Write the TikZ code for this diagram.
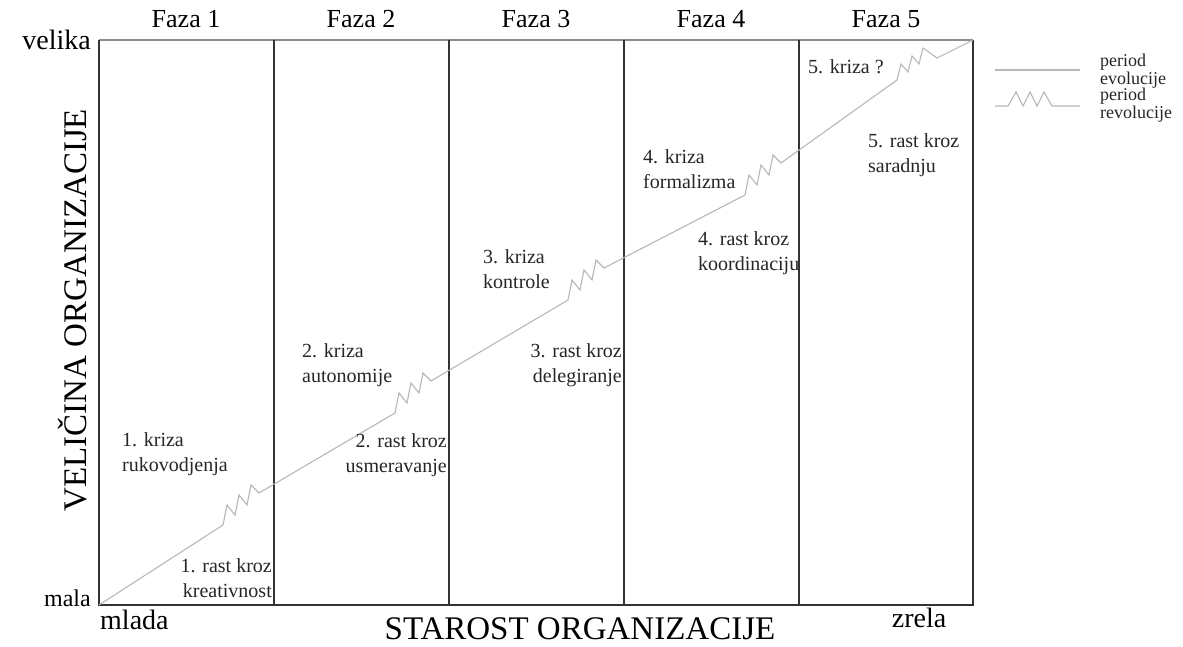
\documentclass[tikz,border=0pt]{standalone}
\usepackage{fontspec}
\setmainfont{Liberation Serif}
\begin{document}
\begin{tikzpicture}[x=1pt,y=-1pt,
  frameline/.style={draw=black!80, line width=1.3pt},
  topline/.style={draw=black!45, line width=1.6pt},
  curve/.style={draw=black!28, line width=1.1pt, line join=miter},
  faza/.style={font=\fontsize{26}{30}\selectfont, inner sep=0pt},
  axis/.style={font=\fontsize{28}{32}\selectfont, inner sep=0pt},
  axissm/.style={font=\fontsize{24}{28}\selectfont, inner sep=0pt},
  axisbig/.style={font=\fontsize{33}{38}\selectfont, inner sep=0pt},
  lbl/.style={font=\fontsize{20}{25}\selectfont, inner sep=0pt, text=black!85},
  leg/.style={font=\fontsize{18}{18}\selectfont, inner sep=0pt, align=left, anchor=north west, text=black!85}]
\useasboundingbox (0,0) rectangle (1183,647);
\fill[white] (0,0) rectangle (1183,647);
% frame corners and phase boundaries
\coordinate (tl) at (99,40);
\coordinate (bl) at (99,605);
\coordinate (tr) at (973,40);
\coordinate (br) at (973,605);
\draw[topline] (tl) -- (tr);
\draw[frameline] (tr) -- (br) -- (bl) -- (tl);
\foreach \x [count=\i] in {274,449,624,799}{
  \coordinate (t\i) at (\x,40);
  \coordinate (b\i) at (\x,605);
  \draw[frameline] (t\i) -- (b\i);
}
% phase titles
\node[faza] (f1) at (186,19) {Faza 1};
\node[faza] (f2) at (361,19) {Faza 2};
\node[faza] (f3) at (536,19) {Faza 3};
\node[faza] (f4) at (711,19) {Faza 4};
\node[faza] (f5) at (886,19) {Faza 5};
% axis labels
\node[axis, anchor=east] (velika) at (91,40) {velika};
\node[axissm, anchor=east] (mala) at (91,598) {mala};
\node[axis, anchor=west] (mlada) at (100,620) {mlada};
\node[axis] (zrela) at (919,618) {zrela};
\node[axisbig] (xax) at (580,629) {STAROST ORGANIZACIJE};
\node[axisbig, rotate=90] (yax) at (73,310) {VELIČINA ORGANIZACIJE};
% growth curve
\draw[curve] (bl) -- (223,525)
  -- ++(4,-20) -- ++(8,10) -- ++(4,-20) -- ++(8,10) -- ++(4,-20) -- ++(8,8)
  -- (395,413)
  -- ++(4,-20) -- ++(8,10) -- ++(4,-20) -- ++(8,10) -- ++(4,-20) -- ++(8,8)
  -- (568,300)
  -- ++(4,-20) -- ++(8,10) -- ++(4,-20) -- ++(8,10) -- ++(4,-20) -- ++(8,8)
  -- (745,195)
  -- ++(4,-20) -- ++(8,10) -- ++(4,-20) -- ++(8,10) -- ++(4,-20) -- ++(8,8)
  -- (897,80)
  -- ++(4,-16) -- ++(7,8) -- ++(4,-16) -- ++(7,8) -- ++(4,-16) -- ++(14,10)
  -- (tr);
% phase labels
\node[lbl, anchor=north west, align=left] (k1) at (122,432) {1. kriza\\rukovodjenja};
\node[lbl, anchor=north east, align=right] (r1) at (272,558) {1. rast kroz\\kreativnost};
\node[lbl, anchor=north west, align=left] (k2) at (302,343) {2. kriza\\autonomije};
\node[lbl, anchor=north east, align=right] (r2) at (447,433) {2. rast kroz\\usmeravanje};
\node[lbl, anchor=north west, align=left] (k3) at (483,249) {3. kriza\\kontrole};
\node[lbl, anchor=north east, align=right] (r3) at (622,343) {3. rast kroz\\delegiranje};
\node[lbl, anchor=north west, align=left] (k4) at (643,149) {4. kriza\\formalizma};
\node[lbl, anchor=north west, align=left] (r4) at (698,231) {4. rast kroz\\koordinaciju};
\node[lbl, anchor=north west, align=left] (k5) at (808,59) {5. kriza ?};
\node[lbl, anchor=north west, align=left] (r5) at (868,133) {5. rast kroz\\saradnju};
% legend
\coordinate (e1) at (995,70);
\coordinate (e2) at (1080,70);
\draw[curve] (e1) -- (e2);
\node[leg] (le) at (1100,54) {period\\evolucije};
\coordinate (v1) at (995,106);
\coordinate (v2) at (1080,106);
\draw[curve] (v1) -- ++(13,0) -- ++(8,-14) -- ++(7,14) -- ++(7,-14) -- ++(7,14) -- ++(7,-14) -- ++(8,14) -- (v2);
\node[leg] (lr) at (1100,88) {period\\revolucije};
\end{tikzpicture}
\end{document}
